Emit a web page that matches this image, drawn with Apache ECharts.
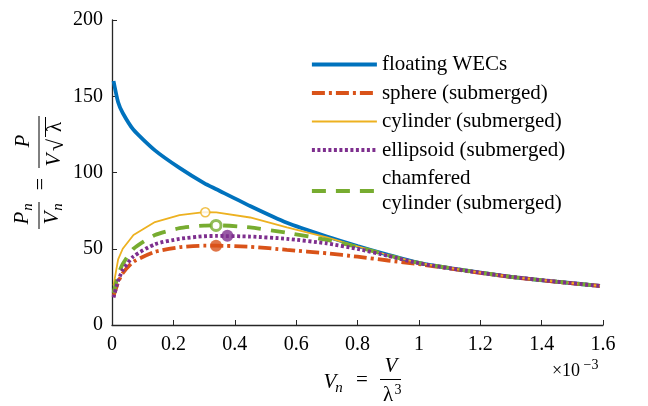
<!DOCTYPE html>
<html lang="en">
<head>
    <meta charset="UTF-8">
    <title>Pn/Vn</title>
    <script src="https://cdn.jsdelivr.net/npm/echarts@6/dist/echarts.min.js"></script>
</head>
<style>
    body{
        margin:0;
        background-color:#fff;
    }
    #main{
        width:648px;
        height:406px;
    }
</style>
<body>
<div id="main"></div>
</body>
<script>
    // Vn (x 10^-3)
    var vn = [0.005, 0.02, 0.035, 0.07, 0.14, 0.22, 0.30, 0.34, 0.45, 0.57, 0.70, 0.80, 0.90, 1.00, 1.15, 1.30, 1.45, 1.59];
    // Pn/Vn
    var floating  = [160, 146, 139, 128, 114.5, 103, 93, 89, 78, 67, 58, 51.8, 46, 40.8, 35.8, 31.6, 28.4, 25.6];
    var sphere    = [19, 28, 34, 41.5, 48, 51, 52, 52, 51.3, 49.3, 47, 44.8, 42.3, 39.9, 35.6, 31.5, 28.3, 25.6];
    var cylinder  = [26, 43, 50, 59, 67.5, 72, 74, 73.8, 70.5, 64, 57.5, 51.6, 45.9, 40.8, 35.8, 31.6, 28.4, 25.6];
    var ellipsoid = [18, 29, 36, 45, 53, 56.5, 58.2, 58.4, 58, 56.5, 53.5, 49.9, 45.3, 40.5, 35.7, 31.6, 28.4, 25.6];
    var chamfered = [21, 33, 40, 50, 59, 63.5, 65.2, 65.4, 64, 60.5, 55.8, 51.2, 45.7, 40.7, 35.8, 31.6, 28.4, 25.6];
    // maxima
    var peakCylinder  = [0.304, 73.9];
    var peakChamfered = [0.339, 65.3];
    var peakEllipsoid = [0.376, 58.5];
    var peakSphere    = [0.339, 52];

    var names = ['floating WECs', 'sphere (submerged)', 'cylinder (submerged)', 'ellipsoid (submerged)', 'chamfered\ncylinder (submerged)'];
    var xTicks = {min: 0, max: 1.6, interval: 0.2};
    var yTicks = {min: 0, max: 200, interval: 50};

    function pairs(ys) {
        var out = [];
        for (var i = 0; i < vn.length; i++) {
            out.push([vn[i], ys[i]]);
        }
        return out;
    }

    var serif = 'Liberation Serif';
    var axisColor = '#262626';

    function txt(x, y, text, size, italic, rot) {
        return {
            type: 'text', x: x, y: y, rotation: rot || 0, silent: true,
            style: {
                text: text, fill: '#000',
                font: (italic ? 'italic ' : '') + size + 'px "' + serif + '"',
                align: 'center', verticalAlign: 'middle',
                textAlign: 'center', textVerticalAlign: 'middle'
            }
        };
    }
    function bar(x1, y1, x2, y2) {
        return {type: 'line', silent: true, shape: {x1: x1, y1: y1, x2: x2, y2: y2}, style: {stroke: '#000', lineWidth: 1}};
    }
    var R = Math.PI / 2;

    var myChart = echarts.init(document.getElementById('main'));
    myChart.setOption({
        animation: false,
        grid: {left: 112, right: 45, top: 20, bottom: 81},
        legend: {
            data: names,
            orient: 'vertical',
            left: 310,
            top: 52,
            itemWidth: 65,
            itemHeight: 14,
            itemGap: 3.5,
            padding: 0,
            itemStyle: {opacity: 0},
            lineStyle: {width: 'inherit', type: 'inherit'},
            textStyle: {fontFamily: serif, fontSize: 21, lineHeight: 25, color: '#000'}
        },
        xAxis: {
            type: 'value',
            min: xTicks.min, max: xTicks.max, interval: xTicks.interval,
            splitLine: {show: false},
            axisLine: {lineStyle: {color: axisColor, width: 1.3}},
            axisTick: {inside: true, length: 5, lineStyle: {color: axisColor}},
            axisLabel: {fontFamily: serif, fontSize: 20, color: '#000', margin: 10}
        },
        yAxis: {
            type: 'value',
            min: yTicks.min, max: yTicks.max, interval: yTicks.interval,
            splitLine: {show: false},
            axisLine: {show: true, lineStyle: {color: axisColor, width: 1.3}},
            axisTick: {show: true, inside: true, length: 5, lineStyle: {color: axisColor}},
            axisLabel: {fontFamily: serif, fontSize: 20, color: '#000', margin: 9}
        },
        graphic: [
            // x axis name  Vn = V / lambda^3
            txt(330, 382, 'V', 21, true),
            txt(339, 388, 'n', 15, true),
            txt(362, 380, '=', 21, false),
            txt(391, 366, 'V', 21, true),
            bar(380, 379.5, 401, 379.5),
            txt(388, 395, 'λ', 21, false),
            txt(398, 390, '3', 14, false),
            // exponent
            txt(566, 371, '×10', 18, false),
            txt(591, 365, '−3', 14, false),
            // y axis name  Pn/Vn = P / (V sqrt(lambda))
            txt(22, 218, 'P', 21, true, R),
            txt(28, 207, 'n', 15, true, R),
            bar(39, 202, 39, 229),
            txt(52, 218, 'V', 21, true, R),
            txt(58, 207, 'n', 15, true, R),
            txt(41, 184, '=', 22, false, R),
            txt(23, 141, 'P', 21, true, R),
            bar(39, 116, 39, 168),
            txt(54, 160, 'V', 21, true, R),
            txt(57, 145, '√', 22, false, R),
            bar(45.5, 117, 45.5, 137),
            txt(55, 127, 'λ', 21, false, R)
        ],
        series: [
            {
                name: names[0], type: 'line', data: pairs(floating),
                symbol: 'none', z: 2, smooth: 0.2,
                itemStyle: {color: '#0072BD'},
                lineStyle: {color: '#0072BD', width: 3.8}
            },
            {
                name: names[1], type: 'line', data: pairs(sphere),
                symbol: 'none', z: 3, smooth: 0.2,
                itemStyle: {color: '#D95319'},
                lineStyle: {color: '#D95319', width: 3.8, type: [13, 4, 3, 4]}
            },
            {
                name: names[2], type: 'line', data: pairs(cylinder),
                symbol: 'none', z: 4,
                itemStyle: {color: '#EDB120'},
                lineStyle: {color: '#EDB120', width: 1.8}
            },
            {
                name: names[3], type: 'line', data: pairs(ellipsoid),
                symbol: 'none', z: 6, smooth: 0.2,
                itemStyle: {color: '#7E2F8E'},
                lineStyle: {color: '#7E2F8E', width: 3.8, type: [3, 2.5]}
            },
            {
                name: names[4], type: 'line', data: pairs(chamfered),
                symbol: 'none', z: 5, smooth: 0.2,
                itemStyle: {color: '#77AC30'},
                lineStyle: {color: '#77AC30', width: 3.8, type: [14, 10]}
            },
            // maxima markers
            {
                name: 'cylinder max', type: 'scatter', data: [peakCylinder], z: 7,
                symbol: 'circle', symbolSize: 9,
                itemStyle: {color: '#fff', borderColor: '#EDB120', borderWidth: 1.6}
            },
            {
                name: 'chamfered max', type: 'scatter', data: [peakChamfered], z: 7,
                symbol: 'circle', symbolSize: 10,
                itemStyle: {color: '#fff', borderColor: '#77AC30', borderWidth: 3}
            },
            {
                name: 'ellipsoid max', type: 'scatter', data: [peakEllipsoid], z: 7,
                symbol: 'circle', symbolSize: 12,
                itemStyle: {color: '#7E2F8E'}
            },
            {
                name: 'sphere max', type: 'scatter', data: [peakSphere], z: 7,
                symbol: 'circle', symbolSize: 12,
                itemStyle: {color: '#D95319'}
            }
        ]
    });
</script>
</html>
